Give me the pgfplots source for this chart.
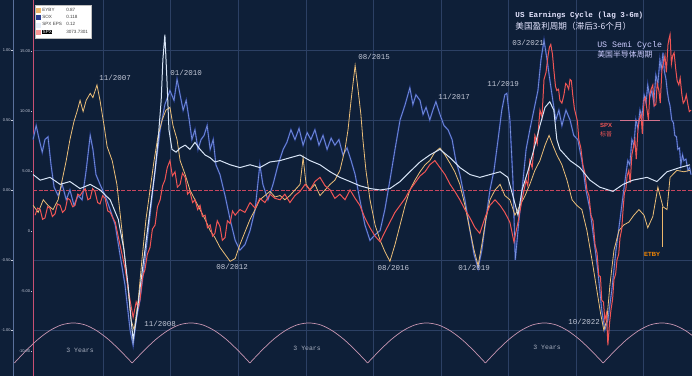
\documentclass[border=0pt]{standalone}
\usepackage{pgfplots}
\usepackage{pgfplotstable}
\pgfplotsset{compat=1.18}
\usepackage{fontspec}
\setmainfont{Liberation Sans}
\newfontfamily\monof{Liberation Mono}
\newfontfamily\cjk{Noto Sans CJK SC}
\definecolor{bgc}{RGB}{14,31,56}
\definecolor{gridc}{RGB}{44,64,100}
\definecolor{zeroc}{RGB}{200,70,95}
\definecolor{pinkax}{RGB}{200,80,115}
\definecolor{blueax}{RGB}{90,112,155}
\definecolor{eyby}{RGB}{235,190,120}
\definecolor{soxdark}{RGB}{40,62,145}
\definecolor{soxlight}{RGB}{125,150,222}
\definecolor{eps}{RGB}{215,228,246}
\definecolor{spx}{RGB}{240,85,85}
\definecolor{arcc}{RGB}{200,150,178}
\definecolor{lblc}{RGB}{195,200,215}
\definecolor{tickc}{RGB}{200,205,220}

\pgfplotstableread{
x y
2005.99 -0.18
2006.06 -0.13
2006.14 -0.14
2006.21 -0.21
2006.28 -0.20
2006.36 -0.12
2006.43 -0.13
2006.50 -0.19
2006.58 -0.17
2006.65 -0.10
2006.73 -0.11
2006.80 -0.16
2006.88 -0.14
2006.95 -0.06
2007.02 -0.07
2007.10 -0.12
2007.17 -0.11
2007.25 -0.03
2007.32 -0.04
2007.40 -0.01
2007.47 0.01
2007.55 -0.07
2007.62 -0.06
2007.69 0.01
2007.76 -0.01
2007.84 -0.09
2007.91 -0.10
2007.99 -0.04
2008.06 -0.06
2008.14 -0.15
2008.21 -0.16
2008.29 -0.20
2008.36 -0.23
2008.50 -0.39
2008.65 -0.56
2008.80 -0.79
2008.89 -0.91
2008.98 -0.80
2009.04 -0.84
2009.09 -0.79
2009.17 -0.62
2009.24 -0.57
2009.31 -0.46
2009.39 -0.41
2009.46 -0.28
2009.54 -0.25
2009.61 -0.12
2009.69 -0.07
2009.76 0.03
2009.83 0.07
2009.90 0.16
2009.98 0.21
2010.05 0.10
2010.13 0.13
2010.20 0.02
2010.28 0.04
2010.35 0.12
2010.43 0.09
2010.50 -0.03
2010.57 -0.01
2010.65 -0.09
2010.72 -0.07
2010.80 -0.14
2010.87 -0.11
2010.94 -0.19
2011.02 -0.18
2011.09 -0.27
2011.17 -0.25
2011.24 -0.33
2011.31 -0.31
2011.38 -0.22
2011.46 -0.26
2011.53 -0.36
2011.61 -0.34
2011.68 -0.22
2011.76 -0.24
2011.83 -0.15
2011.91 -0.18
2012.05 -0.14
2012.20 -0.16
2012.35 -0.09
2012.50 -0.13
2012.64 -0.06
2012.79 -0.09
2012.94 -0.03
2013.09 -0.06
2013.24 -0.07
2013.38 -0.03
2013.53 -0.09
2013.68 -0.04
2013.83 -0.01
2013.98 0.04
2014.12 0.00
2014.27 0.06
2014.42 0.09
2014.57 0.03
2014.72 0.00
2014.86 -0.06
2015.01 -0.03
2015.16 -0.07
2015.31 0.00
2015.46 -0.06
2015.60 -0.11
2015.75 -0.20
2015.90 -0.27
2016.05 -0.33
2016.20 -0.37
2016.34 -0.30
2016.49 -0.23
2016.64 -0.16
2016.79 -0.11
2016.94 -0.06
2017.08 0.00
2017.23 0.05
2017.38 0.10
2017.53 0.13
2017.67 0.18
2017.82 0.21
2017.97 0.16
2018.12 0.11
2018.27 0.04
2018.41 -0.01
2018.56 -0.07
2018.71 -0.14
2018.86 -0.20
2019.01 -0.27
2019.15 -0.31
2019.30 -0.20
2019.45 -0.11
2019.60 -0.07
2019.75 -0.11
2019.89 -0.16
2020.04 -0.23
2020.16 -0.37
2020.28 -0.23
2020.40 -0.07
2020.52 0.07
2020.57 0.03
2020.63 0.21
2020.70 0.16
2020.78 0.39
2020.85 0.33
2020.93 0.57
2020.99 0.52
2021.05 0.79
2021.11 0.84
2021.17 0.96
2021.21 1.02
2021.25 1.04
2021.30 0.97
2021.34 0.86
2021.39 0.74
2021.43 0.71
2021.48 0.72
2021.52 0.64
2021.58 0.62
2021.64 0.68
2021.69 0.76
2021.73 0.75
2021.78 0.72
2021.82 0.79
2021.86 0.78
2021.90 0.68
2021.95 0.58
2021.99 0.54
2022.04 0.49
2022.08 0.36
2022.14 0.30
2022.20 0.18
2022.26 0.12
2022.32 0.00
2022.38 -0.04
2022.44 -0.18
2022.50 -0.22
2022.56 -0.39
2022.62 -0.45
2022.67 -0.61
2022.72 -0.62
2022.76 -0.79
2022.81 -0.80
2022.85 -0.93
2022.90 -0.88
2022.94 -1.11
2022.99 -0.95
2023.03 -0.86
2023.08 -0.78
2023.12 -0.64
2023.17 -0.60
2023.21 -0.50
2023.26 -0.46
2023.30 -0.34
2023.35 -0.28
2023.39 -0.14
2023.43 -0.02
2023.47 0.00
2023.51 0.10
2023.56 0.14
2023.60 0.05
2023.65 0.25
2023.69 0.30
2023.74 0.36
2023.78 0.22
2023.83 0.43
2023.87 0.50
2023.92 0.54
2023.96 0.40
2024.01 0.64
2024.05 0.66
2024.10 0.57
2024.14 0.50
2024.18 0.68
2024.22 0.72
2024.27 0.75
2024.31 0.60
2024.36 0.61
2024.40 0.76
2024.45 0.71
2024.49 0.62
2024.54 0.86
2024.58 0.90
2024.63 0.96
2024.67 0.84
2024.72 1.04
2024.75 1.08
2024.78 1.11
2024.82 0.90
2024.86 0.96
2024.90 0.98
2024.95 0.86
2024.99 0.78
2025.04 0.75
2025.08 0.80
2025.13 0.68
2025.17 0.62
2025.22 0.64
2025.26 0.68
2025.31 0.61
2025.35 0.56
2025.40 0.57
}\spxtab

\pgfplotstableread{
x y
2005.93 0.36
2006.02 0.46
2006.11 0.36
2006.20 0.27
2006.28 0.36
2006.37 0.38
2006.46 0.18
2006.55 0.02
2006.67 -0.04
2006.79 0.04
2006.91 -0.07
2007.02 0.00
2007.14 -0.11
2007.26 -0.04
2007.38 -0.07
2007.50 0.14
2007.62 0.39
2007.70 0.29
2007.79 0.11
2007.91 0.04
2008.06 -0.04
2008.21 -0.14
2008.36 -0.25
2008.50 -0.46
2008.65 -0.68
2008.80 -1.00
2008.89 -1.11
2008.98 -0.93
2009.09 -0.79
2009.24 -0.50
2009.39 -0.18
2009.54 0.14
2009.69 0.43
2009.83 0.61
2009.98 0.71
2010.10 0.64
2010.19 0.79
2010.28 0.68
2010.37 0.57
2010.46 0.64
2010.55 0.50
2010.63 0.36
2010.72 0.43
2010.81 0.29
2010.90 0.36
2010.99 0.39
2011.08 0.46
2011.17 0.29
2011.26 0.36
2011.34 0.18
2011.46 0.11
2011.61 -0.04
2011.76 -0.21
2011.91 -0.36
2012.05 -0.43
2012.20 -0.39
2012.35 -0.29
2012.50 -0.14
2012.64 0.18
2012.73 0.04
2012.88 -0.07
2013.03 0.04
2013.18 0.18
2013.33 0.29
2013.44 0.34
2013.56 0.43
2013.68 0.36
2013.80 0.44
2013.92 0.32
2014.04 0.41
2014.15 0.36
2014.27 0.43
2014.39 0.32
2014.51 0.39
2014.63 0.29
2014.75 0.37
2014.86 0.32
2014.98 0.36
2015.10 0.25
2015.22 0.30
2015.34 0.21
2015.46 0.11
2015.60 -0.07
2015.75 -0.25
2015.90 -0.36
2016.05 -0.32
2016.20 -0.29
2016.34 -0.14
2016.49 0.07
2016.64 0.29
2016.79 0.50
2016.94 0.61
2017.08 0.73
2017.17 0.61
2017.26 0.68
2017.38 0.64
2017.47 0.54
2017.56 0.59
2017.67 0.50
2017.76 0.57
2017.85 0.63
2017.97 0.54
2018.09 0.46
2018.21 0.43
2018.33 0.36
2018.44 0.21
2018.56 0.11
2018.71 -0.07
2018.86 -0.29
2018.98 -0.46
2019.10 -0.56
2019.21 -0.43
2019.33 -0.21
2019.45 0.00
2019.57 0.14
2019.69 0.36
2019.80 0.57
2019.89 0.68
2019.95 0.69
2020.04 0.50
2020.13 0.07
2020.20 -0.50
2020.31 -0.21
2020.40 0.00
2020.52 0.29
2020.63 0.43
2020.75 0.57
2020.87 0.71
2020.96 0.93
2021.05 1.07
2021.14 0.93
2021.22 0.79
2021.31 0.64
2021.40 0.50
2021.49 0.57
2021.58 0.46
2021.70 0.57
2021.82 0.50
2021.93 0.39
2022.05 0.36
2022.17 0.21
2022.29 0.00
2022.41 -0.14
2022.53 -0.36
2022.64 -0.57
2022.76 -0.86
2022.85 -1.00
2022.94 -0.93
2023.06 -0.71
2023.18 -0.43
2023.30 -0.21
2023.41 0.00
2023.53 0.21
2023.59 0.18
2023.65 0.36
2023.71 0.32
2023.77 0.50
2023.83 0.44
2023.89 0.57
2023.95 0.52
2024.01 0.68
2024.07 0.62
2024.12 0.75
2024.18 0.66
2024.24 0.71
2024.30 0.62
2024.36 0.82
2024.42 0.76
2024.48 0.93
2024.52 0.86
2024.57 0.98
2024.61 0.85
2024.66 0.79
2024.70 0.70
2024.74 0.64
2024.78 0.60
2024.83 0.50
2024.88 0.48
2024.92 0.39
2024.97 0.38
2025.01 0.29
2025.06 0.30
2025.10 0.18
2025.15 0.25
2025.19 0.21
2025.25 0.22
2025.31 0.14
2025.36 0.16
2025.40 0.11
}\soxtab

\pgfplotstableread{
x y
2005.93 0.11
2006.14 0.07
2006.43 0.09
2006.73 0.04
2007.02 0.06
2007.32 0.01
2007.62 0.04
2007.91 0.00
2008.21 -0.07
2008.45 -0.21
2008.62 -0.43
2008.74 -0.68
2008.83 -0.93
2008.89 -1.07
2008.98 -0.93
2009.09 -0.71
2009.24 -0.43
2009.39 -0.14
2009.54 0.14
2009.63 0.36
2009.72 0.64
2009.77 0.93
2009.83 1.11
2009.89 0.79
2009.95 0.43
2010.04 0.29
2010.16 0.27
2010.28 0.30
2010.43 0.32
2010.57 0.29
2010.72 0.34
2010.87 0.29
2011.02 0.25
2011.17 0.23
2011.31 0.20
2011.46 0.21
2011.76 0.18
2012.05 0.16
2012.35 0.18
2012.64 0.16
2012.94 0.20
2013.24 0.21
2013.53 0.23
2013.83 0.25
2014.12 0.21
2014.42 0.18
2014.72 0.13
2015.01 0.09
2015.31 0.06
2015.60 0.03
2015.90 0.01
2016.20 0.00
2016.49 0.01
2016.79 0.06
2017.08 0.13
2017.38 0.20
2017.67 0.25
2017.97 0.29
2018.27 0.23
2018.56 0.16
2018.86 0.11
2019.15 0.09
2019.45 0.11
2019.75 0.13
2019.98 0.09
2020.16 -0.07
2020.28 -0.18
2020.40 0.00
2020.58 0.14
2020.75 0.29
2020.93 0.46
2021.08 0.59
2021.22 0.63
2021.34 0.57
2021.43 0.36
2021.52 0.29
2021.67 0.25
2021.82 0.21
2022.11 0.16
2022.41 0.07
2022.70 0.02
2023.09 -0.01
2023.39 0.04
2023.68 0.07
2024.10 0.09
2024.39 0.06
2024.69 0.13
2025.07 0.16
2025.37 0.18
}\epstab

\pgfplotstableread{
x y
2005.93 -0.11
2006.08 -0.16
2006.23 -0.07
2006.37 -0.11
2006.52 -0.14
2006.67 -0.07
2006.79 0.07
2006.91 0.21
2007.02 0.36
2007.14 0.49
2007.23 0.56
2007.32 0.64
2007.41 0.56
2007.50 0.64
2007.62 0.69
2007.70 0.66
2007.82 0.75
2007.91 0.64
2008.03 0.46
2008.12 0.31
2008.27 0.21
2008.41 0.04
2008.56 -0.29
2008.71 -0.64
2008.83 -0.93
2008.92 -1.00
2009.04 -0.79
2009.15 -0.50
2009.27 -0.21
2009.39 0.00
2009.51 0.21
2009.63 0.39
2009.75 0.50
2009.86 0.57
2009.98 0.59
2010.07 0.46
2010.19 0.36
2010.28 0.21
2010.43 0.11
2010.57 0.00
2010.72 -0.07
2010.87 -0.14
2011.02 -0.21
2011.17 -0.29
2011.31 -0.34
2011.46 -0.41
2011.61 -0.46
2011.76 -0.51
2011.91 -0.49
2012.05 -0.39
2012.20 -0.30
2012.35 -0.21
2012.50 -0.14
2012.64 -0.07
2012.79 -0.04
2012.94 -0.01
2013.09 -0.05
2013.24 -0.04
2013.38 -0.07
2013.53 -0.04
2013.68 0.00
2013.83 0.04
2013.92 0.23
2014.01 0.04
2014.12 0.00
2014.27 0.04
2014.42 -0.04
2014.57 0.00
2014.72 0.04
2014.86 0.07
2015.01 0.14
2015.16 0.29
2015.25 0.43
2015.34 0.64
2015.46 0.89
2015.55 0.71
2015.63 0.54
2015.69 0.36
2015.78 0.14
2015.90 -0.07
2016.05 -0.25
2016.20 -0.36
2016.34 -0.44
2016.49 -0.51
2016.64 -0.39
2016.79 -0.25
2016.94 -0.11
2017.08 0.00
2017.23 0.07
2017.38 0.13
2017.53 0.18
2017.67 0.21
2017.82 0.27
2017.97 0.30
2018.12 0.25
2018.27 0.19
2018.41 0.13
2018.56 0.04
2018.71 -0.11
2018.86 -0.29
2018.98 -0.43
2019.10 -0.54
2019.21 -0.39
2019.33 -0.21
2019.45 -0.07
2019.60 0.00
2019.75 0.04
2019.89 -0.04
2020.04 -0.07
2020.19 -0.18
2020.34 -0.11
2020.49 -0.04
2020.63 0.04
2020.78 0.14
2020.93 0.21
2021.08 0.32
2021.20 0.39
2021.31 0.32
2021.43 0.25
2021.58 0.18
2021.73 0.07
2021.88 -0.07
2022.02 -0.11
2022.17 -0.14
2022.32 -0.29
2022.47 -0.50
2022.61 -0.71
2022.73 -0.89
2022.82 -1.00
2022.91 -0.93
2023.00 -0.68
2023.12 -0.43
2023.27 -0.29
2023.41 -0.25
2023.56 -0.23
2023.71 -0.18
2023.86 -0.14
2024.01 -0.18
2024.12 -0.27
2024.27 -0.19
2024.42 0.02
2024.57 -0.12
2024.69 -0.14
2024.78 0.09
2024.98 0.14
2025.19 0.13
2025.37 0.14
}\eybytab

\begin{document}
\begin{tikzpicture}
\begin{axis}[
  name=main,
  scale only axis, width=692pt, height=376pt,
  xmin=2004.95, xmax=2025.43, ymin=-1.329, ymax=1.357,
  axis background/.style={fill=bgc},
  axis line style={draw=none},
  xtick=\empty,
  ytick={-1,-0.5,0,0.5,1},
  yticklabels={-1.00\,\rule[0.45ex]{1.5pt}{0.3pt},-0.50\,\rule[0.45ex]{1.5pt}{0.3pt},0.00\,\rule[0.45ex]{1.5pt}{0.3pt},0.50\,\rule[0.45ex]{1.5pt}{0.3pt},1.00\,\rule[0.45ex]{1.5pt}{0.3pt}},
  major tick length=0pt,
  yticklabel style={anchor=east, xshift=13pt, inner sep=0pt, font=\fontsize{4}{4}\selectfont, text=tickc},
  clip=true,
  legend style={at={(0.0506,0.987)}, anchor=north west, fill=white, draw=gray!50,
    font=\fontsize{4.6}{4.9}\selectfont, text=black!75, inner sep=0.8pt, row sep=-1.4pt,
    /tikz/every even column/.append style={column sep=0.5pt}},
  legend cell align=left,
  legend image code/.code={\fill[#1] (0pt,-1.9pt) rectangle (3.9pt,1.9pt);},
]
\coordinate (SW) at (rel axis cs:0,0);
\coordinate (NE) at (rel axis cs:1,1);
\addlegendimage{color=eyby!90!orange}
\addlegendentry{\makebox[24pt][l]{EYBY}0.87\hspace{6pt}}
\addlegendimage{color=soxdark}
\addlegendentry{\makebox[24pt][l]{SOX}0.118}
\addlegendimage{color=eps!60!white}
\addlegendentry{\makebox[24pt][l]{SPX EPS}0.12}
\addlegendimage{color=spx!60!white}
\addlegendentry{\makebox[24pt][l]{{\setlength{\fboxsep}{0.4pt}\colorbox{black}{\textcolor{white}{SPX}}}}3073.7301}

% grid
\foreach \gx in {2008,2010,...,2024} {
  \edef\tmp{\noexpand\draw[gridc, line width=0.45pt] (axis cs:\gx,-1.329) -- (axis cs:\gx,1.357);}\tmp
}
\foreach \gy in {-1,-0.5,0.5,1} {
  \edef\tmp{\noexpand\draw[gridc, line width=0.45pt] (axis cs:2005.93,\gy) -- (axis cs:2025.43,\gy);}\tmp
}
\draw[blueax, line width=0.6pt] (axis cs:2005.34,-1.329) -- (axis cs:2005.34,1.357);
\draw[pinkax, line width=0.6pt] (axis cs:2005.93,-1.329) -- (axis cs:2005.93,1.357);
\draw[zeroc, line width=0.6pt, dash pattern=on 4pt off 1.5pt] (axis cs:2005.93,0) -- (axis cs:2025.43,0);

% cycle arcs
\addplot[arcc, line width=0.7pt, smooth] coordinates {(2005.375,-1.236) (2005.72,-1.148) (2006.07,-1.068) (2006.42,-1.005) (2006.77,-0.964) (2007.12,-0.950) (2007.47,-0.964) (2007.81,-1.005) (2008.16,-1.068) (2008.51,-1.148) (2008.86,-1.236)};
\addplot[arcc, line width=0.7pt, smooth] coordinates {(2008.86,-1.236) (2009.21,-1.148) (2009.56,-1.068) (2009.91,-1.005) (2010.25,-0.964) (2010.60,-0.950) (2010.95,-0.964) (2011.30,-1.005) (2011.65,-1.068) (2012.00,-1.148) (2012.345,-1.236)};
\addplot[arcc, line width=0.7pt, smooth] coordinates {(2012.345,-1.236) (2012.69,-1.148) (2013.04,-1.068) (2013.39,-1.005) (2013.74,-0.964) (2014.09,-0.950) (2014.44,-0.964) (2014.78,-1.005) (2015.13,-1.068) (2015.48,-1.148) (2015.83,-1.236)};
\addplot[arcc, line width=0.7pt, smooth] coordinates {(2015.83,-1.236) (2016.18,-1.148) (2016.53,-1.068) (2016.88,-1.005) (2017.23,-0.964) (2017.57,-0.950) (2017.92,-0.964) (2018.27,-1.005) (2018.62,-1.068) (2018.97,-1.148) (2019.315,-1.236)};
\addplot[arcc, line width=0.7pt, smooth] coordinates {(2019.315,-1.236) (2019.66,-1.148) (2020.01,-1.068) (2020.36,-1.005) (2020.71,-0.964) (2021.06,-0.950) (2021.41,-0.964) (2021.75,-1.005) (2022.10,-1.068) (2022.45,-1.148) (2022.80,-1.236)};
\addplot[arcc, line width=0.7pt, smooth] coordinates {(2022.80,-1.236) (2023.15,-1.148) (2023.50,-1.068) (2023.85,-1.005) (2024.19,-0.964) (2024.54,-0.950) (2024.89,-0.964) (2025.24,-1.005) (2025.59,-1.068)};

% series
\addplot[soxdark, line width=1.6pt] table[x=x,y=y] {\soxtab};
\addplot[soxlight, line width=0.6pt] table[x=x,y=y] {\soxtab};
\addplot[eyby, line width=0.8pt] table[x=x,y=y] {\eybytab};
\addplot[spx, line width=1.0pt] table[x=x,y=y] {\spxtab};
\addplot[eps, line width=1.0pt] table[x=x,y=y] {\epstab};

% annotations
\draw[pinkax!80!white, line width=0.5pt] (axis cs:2023.30,0.5) -- (axis cs:2024.48,0.5);
\draw[eyby!90!orange, line width=0.5pt] (axis cs:2024.55,-0.12) -- (axis cs:2024.55,-0.41);

\begin{scope}[every node/.style={font=\monof\fontsize{7.5}{8}\selectfont, text=lblc, inner sep=0pt}]
\node at (axis cs:2008.36,0.80) {11/2007};
\node at (axis cs:2010.46,0.836) {01/2010};
\node at (axis cs:2016.02,0.95) {08/2015};
\node at (axis cs:2018.39,0.664) {11/2017};
\node at (axis cs:2019.84,0.757) {11/2019};
\node at (axis cs:2020.58,1.05) {03/2021};
\node at (axis cs:2011.82,-0.55) {08/2012};
\node at (axis cs:2016.59,-0.557) {08/2016};
\node at (axis cs:2018.98,-0.557) {01/2019};
\node at (axis cs:2009.69,-0.957) {11/2008};
\node at (axis cs:2022.24,-0.943) {10/2022};
\end{scope}

\begin{scope}[every node/.style={font=\monof\fontsize{6.5}{7}\selectfont, text=lblc!85!bgc, inner sep=0pt}]
\node at (axis cs:2007.32,-1.143) {3 Years};
\node at (axis cs:2014.04,-1.129) {3 Years};
\node at (axis cs:2021.14,-1.121) {3 Years};
\end{scope}

\node[anchor=west, inner sep=0pt, text=white!90!blue, font=\monof\bfseries\fontsize{7.6}{8}\selectfont] at (axis cs:2020.20,1.243) {US Earnings Cycle (lag 3-6m)};
\node[anchor=west, inner sep=0pt, text=white!90!blue, font=\cjk\fontsize{8.6}{9}\selectfont] at (axis cs:2020.20,1.172) {美国盈利周期（滞后3-6个月）};
\node[anchor=west, inner sep=0pt, text=white!80!blue, font=\monof\fontsize{8.3}{9}\selectfont] at (axis cs:2022.62,1.036) {US Semi Cycle};
\node[anchor=west, inner sep=0pt, text=white!80!blue, font=\cjk\fontsize{7.9}{8}\selectfont] at (axis cs:2022.62,0.968) {美国半导体周期};
\node[inner sep=0pt, text=spx, font=\bfseries\fontsize{6}{6}\selectfont] at (axis cs:2022.89,0.464) {SPX};
\node[inner sep=0pt, text=spx, font=\cjk\fontsize{6}{6}\selectfont] at (axis cs:2022.89,0.40) {标普};
\node[inner sep=0pt, text=orange!90!yellow, font=\bfseries\fontsize{6}{6}\selectfont] at (axis cs:2024.25,-0.464) {ETBY};
\end{axis}

\begin{axis}[
  scale only axis, width=692pt, height=376pt,
  xmin=2004.95, xmax=2025.43, ymin=-12.083, ymax=19.25,
  axis line style={draw=none},
  xtick=\empty,
  ytick={-10,-5,0,5,10,15},
  yticklabels={-10.00\,\rule[0.45ex]{1.5pt}{0.3pt},-5.00\,\rule[0.45ex]{1.5pt}{0.3pt},0\,\rule[0.45ex]{1.5pt}{0.3pt},5.00\,\rule[0.45ex]{1.5pt}{0.3pt},10.00\,\rule[0.45ex]{1.5pt}{0.3pt},15.00\,\rule[0.45ex]{1.5pt}{0.3pt}},
  major tick length=0pt,
  yticklabel style={anchor=east, xshift=32.5pt, inner sep=0pt, font=\fontsize{4}{4}\selectfont, text=tickc},
]
\end{axis}
\pgfresetboundingbox
\useasboundingbox (SW) rectangle (NE);
\end{tikzpicture}
\end{document}
